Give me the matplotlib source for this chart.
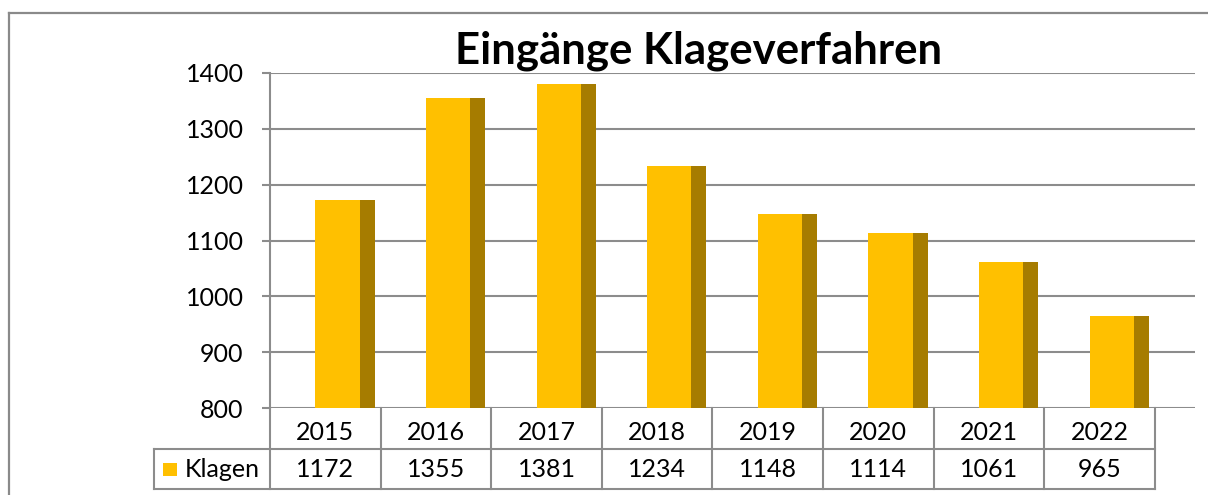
import matplotlib
matplotlib.use("Agg")
import matplotlib.pyplot as plt
from matplotlib.patches import Rectangle
from matplotlib.lines import Line2D

years = ['2015', '2016', '2017', '2018', '2019', '2020', '2021', '2022']
klagen = [1172, 1355, 1381, 1234, 1148, 1114, 1061, 965]
series_name = 'Klagen'
title = 'Eingänge Klageverfahren'
y_ticks = [800, 900, 1000, 1100, 1200, 1300, 1400]

FRONT = '#FFC000'
SIDE = '#A67C00'
GRID = '#8C8C8C'
W, H = 1208, 495
FS = 18

plt.rcParams['font.family'] = ['Lato', 'DejaVu Sans']

fig = plt.figure(figsize=(W / 100, H / 100), dpi=100)


def px_box(x0, y0, x1, y1):
    # pixel box (top-left origin) -> figure fraction rect
    return [x0 / W, 1 - y1 / H, (x1 - x0) / W, (y1 - y0) / H]


# outer chart border (cropped at right/bottom)
fig.add_artist(Line2D([9 / W, 9 / W], [0, 1 - 13 / H], color='#8A8A8A', lw=1.6))
fig.add_artist(Line2D([9 / W, 1], [1 - 13 / H, 1 - 13 / H], color='#8A8A8A', lw=1.6))

col_w = 110.6
x_left, x_right = 270, 1195
xmax = (x_right - x_left) / col_w

ax = fig.add_axes(px_box(x_left, 73, x_right, 408))
ax.set_xlim(0, xmax)
ax.set_ylim(800, 1400)

for i, v in enumerate(klagen):
    ax.add_patch(Rectangle((i + 0.41, 800), 0.40, v - 800, facecolor=FRONT, edgecolor='none', zorder=3))
    ax.add_patch(Rectangle((i + 0.81, 800), 0.135, v - 800, facecolor=SIDE, edgecolor='none', zorder=3))

ax.set_yticks(y_ticks)
ax.set_yticklabels([str(t) for t in y_ticks], fontsize=FS)
ax.set_xticks([])
ax.grid(axis='y', color=GRID, lw=1.5, zorder=0)
for s in ['top', 'right', 'bottom']:
    ax.spines[s].set_visible(False)
ax.spines['left'].set_color(GRID)
ax.spines['left'].set_linewidth(1.5)
ax.tick_params(axis='y', length=6, width=1.5, color=GRID, pad=13)

fig.text(699 / W, 1 - 51 / H, title, ha='center', va='center', fontsize=31.5, fontweight='bold')

# data table under the axis
tx0 = 154
tab = fig.add_axes(px_box(tx0, 408, x_right, 489))
tab.set_xlim((tx0 - x_left) / col_w, xmax)
tab.set_ylim(2, 0)
tab.axis('off')
xl = (tx0 - x_left) / col_w
n = len(years)
lk = dict(color=GRID, lw=1.5, clip_on=False, solid_capstyle='projecting')
for i in range(n + 1):
    tab.plot([i, i], [0, 2], **lk)
tab.plot([xl, xl], [1, 2], **lk)
tab.plot([xl, n], [1, 1], **lk)
tab.plot([xl, n], [2, 2], **lk)
for i, (yr, v) in enumerate(zip(years, klagen)):
    tab.text(i + 0.5, 0.6, yr, ha='center', va='center', fontsize=FS)
    tab.text(i + 0.5, 1.52, str(v), ha='center', va='center', fontsize=FS)
# legend key in header cell
tab.add_patch(Rectangle((xl + 9 / col_w, 1.35), 14 / col_w, 0.34, facecolor=FRONT, edgecolor='none', clip_on=False))
tab.text(xl + 31 / col_w, 1.52, series_name, ha='left', va='center', fontsize=FS)

fig.savefig('out.png', dpi=100)
